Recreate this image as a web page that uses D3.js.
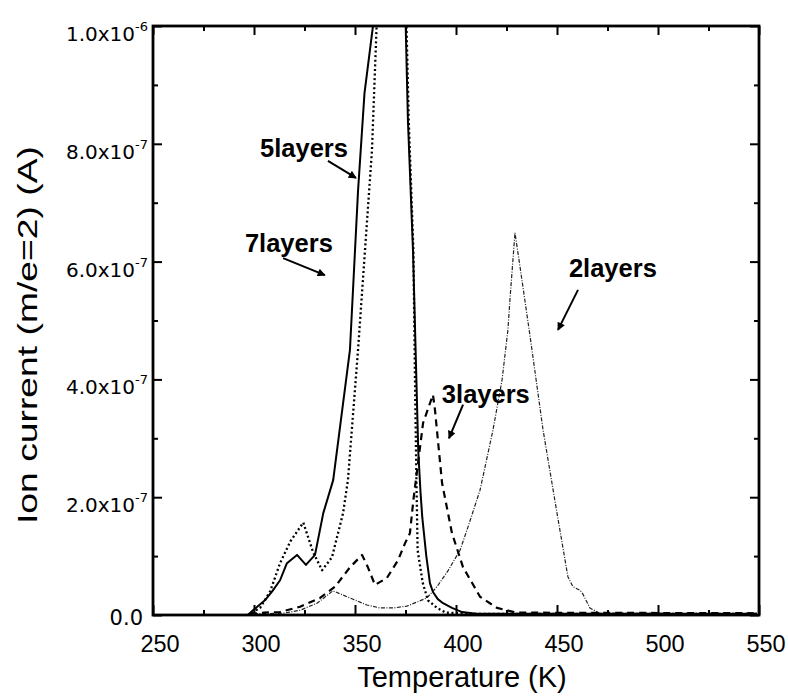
<!DOCTYPE html>
<html>
<head>
<meta charset="utf-8">
<script src="https://cdn.jsdelivr.net/npm/d3@7"></script>
<style>
  html, body { margin: 0; padding: 0; background: #fff; }
  svg { display: block; }
</style>
</head>
<body>
<svg id="chart" width="788" height="696"></svg>
<script>
// ---------------- data (Temperature in K, ion current in A) ----------------
const temps5 = [297, 299.5, 305.4, 309, 312.9, 316.3, 321.3, 325.7, 330.2, 334.3, 339.2, 347.5, 351.5, 354.7, 358.9, 362, 372, 375.1, 376.2, 378.7, 380, 381.3, 382.4, 383.3, 385.3, 387.1, 388.6, 391, 393.6, 398, 403, 410, 450, 549];
const ion5   = [0, 0.008e-6, 0.025e-6, 0.04e-6, 0.059e-6, 0.088e-6, 0.102e-6, 0.085e-6, 0.102e-6, 0.173e-6, 0.229e-6, 0.45e-6, 0.72e-6, 0.886e-6, 1.0e-6, 1.12e-6, 1.25e-6, 1.0e-6, 0.84e-6, 0.62e-6, 0.45e-6, 0.28e-6, 0.21e-6, 0.166e-6, 0.1e-6, 0.054e-6, 0.039e-6, 0.027e-6, 0.02e-6, 0.012e-6, 0.005e-6, 0.002e-6, 0.002e-6, 0.002e-6];

const temps7 = [297, 303, 308, 312.9, 318, 324.4, 329.2, 333.7, 338.6, 344.1, 346.5, 351.5, 358.4, 360.7, 366, 375.5, 376.6, 378.9, 379.7, 380.4, 381, 383.5, 386.1, 390.6, 395, 410, 549];
const ion7   = [0, 0.012e-6, 0.04e-6, 0.088e-6, 0.125e-6, 0.157e-6, 0.107e-6, 0.076e-6, 0.098e-6, 0.173e-6, 0.229e-6, 0.45e-6, 0.789e-6, 1.0e-6, 1.3e-6, 1.0e-6, 0.84e-6, 0.62e-6, 0.4e-6, 0.229e-6, 0.11e-6, 0.055e-6, 0.025e-6, 0.012e-6, 0.004e-6, 0.002e-6, 0.002e-6];

const temps3 = [298, 305, 312.9, 322.8, 332.7, 340.1, 347.5, 353.5, 356.4, 359.9, 365.8, 371.3, 374.8, 377.2, 378.9, 381.2, 383.7, 388.6, 389.6, 393.1, 398, 403.5, 411.9, 420.3, 430, 549];
const ion3   = [0.002e-6, 0.004e-6, 0.005e-6, 0.014e-6, 0.029e-6, 0.048e-6, 0.081e-6, 0.102e-6, 0.081e-6, 0.051e-6, 0.063e-6, 0.093e-6, 0.122e-6, 0.139e-6, 0.195e-6, 0.258e-6, 0.326e-6, 0.374e-6, 0.348e-6, 0.224e-6, 0.139e-6, 0.081e-6, 0.031e-6, 0.012e-6, 0.004e-6, 0.003e-6];

const temps2 = [300, 314.4, 322.8, 331.2, 339.1, 346, 355.9, 362.4, 369, 375.7, 385.6, 390.6, 396, 402, 406, 411.9, 418.3, 422.8, 425.7, 426.7, 429.2, 431.7, 436.6, 443.1, 450, 455.4, 457.9, 461.4, 462.9, 466.3, 471, 549];
const ion2   = [0.002e-6, 0.003e-6, 0.008e-6, 0.02e-6, 0.041e-6, 0.031e-6, 0.017e-6, 0.012e-6, 0.012e-6, 0.015e-6, 0.029e-6, 0.048e-6, 0.075e-6, 0.11e-6, 0.15e-6, 0.212e-6, 0.314e-6, 0.399e-6, 0.484e-6, 0.535e-6, 0.649e-6, 0.591e-6, 0.475e-6, 0.314e-6, 0.173e-6, 0.065e-6, 0.048e-6, 0.042e-6, 0.035e-6, 0.012e-6, 0.003e-6, 0.002e-6];

const xTickLabels = [250, 300, 350, 400, 450, 500, 550];
const xMinorTicks = [275, 325, 375, 425, 475, 525];
const yTickLabels = [0, 2e-7, 4e-7, 6e-7, 8e-7, 1e-6];
const yMinorTicks = [1e-7, 3e-7, 5e-7, 7e-7, 9e-7];

// annotation labels, positions in data units (K, A)
const labelNames = ["5layers", "7layers", "3layers", "2layers"];
const labelPos   = [[303.0, 0.778e-6], [295.5, 0.616e-6], [393.0, 0.36e-6], [455.9, 0.574e-6]];
const arrowFrom  = [[336.6, 0.771e-6], [314.4, 0.606e-6], [403.5, 0.357e-6], [460.4, 0.552e-6]];
const arrowTo    = [[350.5, 0.742e-6], [335.1, 0.577e-6], [396.5, 0.300e-6], [450.5, 0.484e-6]];

// ---------------- drawing ----------------
const svg = d3.select("#chart");
const L = 153, R = 759, T = 26, B = 615;
const x = d3.scaleLinear().domain([250, 550]).range([L, R]);
const y = d3.scaleLinear().domain([0, 1e-6]).range([B, T]);

const defs = svg.append("defs");
defs.append("clipPath").attr("id", "clip")
  .append("rect").attr("x", L).attr("y", T).attr("width", R - L).attr("height", B - T);
defs.append("marker")
  .attr("id", "arrow").attr("viewBox", "0 0 10 10").attr("refX", 9).attr("refY", 5)
  .attr("markerWidth", 11).attr("markerHeight", 8).attr("markerUnits", "userSpaceOnUse")
  .attr("orient", "auto")
  .append("path").attr("d", "M0,0 L10,5 L0,10 z").attr("fill", "#000");

const line = d3.line().x(d => x(d[0])).y(d => y(d[1]));
const series = [
  { t: temps2, v: ion2, w: 1.2, dash: "4,1.5,1,1.5", color: "#222" },
  { t: temps3, v: ion3, w: 2.2, dash: "7,5", color: "#000" },
  { t: temps7, v: ion7, w: 2.3, dash: "2,2.6", color: "#000" },
  { t: temps5, v: ion5, w: 2.0, dash: null, color: "#000" }
];
const g = svg.append("g").attr("clip-path", "url(#clip)");
series.forEach(s => {
  g.append("path")
    .datum(s.t.map((t, i) => [t, s.v[i]]))
    .attr("d", line)
    .attr("fill", "none")
    .attr("stroke", s.color)
    .attr("stroke-width", s.w)
    .attr("stroke-linejoin", "round")
    .attr("stroke-dasharray", s.dash);
});

// axes (ticks inward on all four sides)
const ax = svg.append("g");
function drawAxis(axisGen, tr) {
  const a = ax.append("g").attr("transform", tr).call(axisGen);
  a.select(".domain").remove();
  a.selectAll("line").attr("stroke", "#000").attr("stroke-width", 2);
  a.selectAll("text").remove();
}
drawAxis(d3.axisBottom(x).tickValues(xTickLabels).tickSize(-10), `translate(0,${B})`);
drawAxis(d3.axisBottom(x).tickValues(xMinorTicks).tickSize(-5), `translate(0,${B})`);
drawAxis(d3.axisTop(x).tickValues(xTickLabels).tickSize(-9), `translate(0,${T})`);
drawAxis(d3.axisTop(x).tickValues(xMinorTicks).tickSize(-5), `translate(0,${T})`);
drawAxis(d3.axisLeft(y).tickValues(yTickLabels).tickSize(-9), `translate(${L},0)`);
drawAxis(d3.axisLeft(y).tickValues(yMinorTicks).tickSize(-5), `translate(${L},0)`);
drawAxis(d3.axisRight(y).tickValues(yTickLabels).tickSize(-9), `translate(${R},0)`);
drawAxis(d3.axisRight(y).tickValues(yMinorTicks).tickSize(-5), `translate(${R},0)`);

svg.append("rect").attr("x", L).attr("y", T).attr("width", R - L).attr("height", B - T)
  .attr("fill", "none").attr("stroke", "#000").attr("stroke-width", 2.8);

// x tick labels
svg.append("g").selectAll("text").data(xTickLabels).join("text")
  .attr("x", d => x(d) + 7).attr("y", B + 37)
  .attr("text-anchor", "middle")
  .attr("font-family", "Liberation Sans, Arial, sans-serif")
  .attr("font-size", 23.5)
  .text(d => d);

// y tick labels
const yl = svg.append("g").selectAll("text").data(yTickLabels).join("text")
  .attr("font-family", "DejaVu Sans, sans-serif")
  .attr("font-size", d => d === 0 ? 21 : 20)
  .attr("text-anchor", "end")
  .attr("x", d => d === 0 ? 143 : 148)
  .attr("y", d => y(d) + (d === 0 ? 10 : 15));
yl.each(function(d) {
  const t = d3.select(this);
  if (d === 0) { t.text("0.0"); return; }
  const e = Math.floor(Math.log10(d) + 1e-9);
  const m = d / Math.pow(10, e);
  t.append("tspan").text(m.toFixed(1) + "x10");
  t.append("tspan").attr("dy", -10).attr("font-size", 13).text(String(e));
});

// axis titles
svg.append("text")
  .attr("x", 462).attr("y", 687).attr("text-anchor", "middle")
  .attr("font-family", "Liberation Sans, Arial, sans-serif").attr("font-size", 29)
  .text("Temperature (K)");
svg.append("text")
  .attr("transform", `translate(37,335) rotate(-90)`)
  .attr("text-anchor", "middle")
  .attr("font-family", "Liberation Sans, Arial, sans-serif").attr("font-size", 28)
  .attr("textLength", 378).attr("lengthAdjust", "spacingAndGlyphs")
  .text("Ion current (m/e=2) (A)");

// annotations
const ann = svg.append("g");
labelNames.forEach((name, i) => {
  ann.append("text")
    .attr("x", x(labelPos[i][0])).attr("y", y(labelPos[i][1]))
    .attr("font-family", "Liberation Sans, Arial, sans-serif")
    .attr("font-weight", "bold").attr("font-size", 25.5)
    .text(name);
  ann.append("line")
    .attr("x1", x(arrowFrom[i][0])).attr("y1", y(arrowFrom[i][1]))
    .attr("x2", x(arrowTo[i][0])).attr("y2", y(arrowTo[i][1]))
    .attr("stroke", "#000").attr("stroke-width", 2)
    .attr("marker-end", "url(#arrow)");
});
</script>
</body>
</html>
